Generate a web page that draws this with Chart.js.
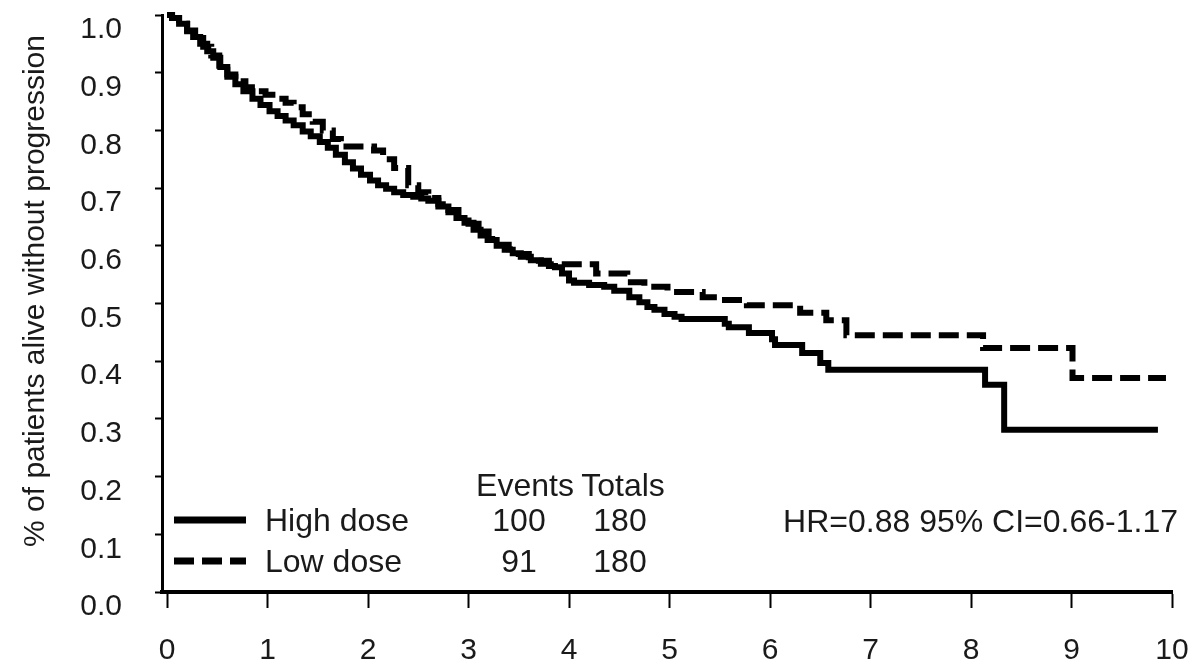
<!DOCTYPE html>
<html><head><meta charset="utf-8">
<script src="https://cdn.jsdelivr.net/npm/chart.js@4/dist/chart.umd.min.js"></script>
<style>html,body{margin:0;padding:0;background:#fff}#wrap{width:1196px;height:666px;position:relative}</style>
</head><body><div id="wrap"><canvas id="c" width="1196" height="666"></canvas></div>
<script>
// ---- data ----
const highTimes = [0,0.05,0.12,0.2,0.26,0.33,0.4,0.46,0.53,0.6,0.68,0.76,0.85,0.93,1.02,1.1,1.18,1.26,1.35,1.43,1.52,1.6,1.68,1.77,1.85,1.93,2.02,2.1,2.18,2.26,2.35,2.45,2.53,2.6,2.7,2.8,2.88,2.96,3.05,3.12,3.19,3.28,3.36,3.44,3.52,3.62,3.72,3.8,3.86,3.93,4.0,4.05,4.2,4.35,4.45,4.6,4.7,4.78,4.85,4.95,5.05,5.12,5.55,5.59,5.79,6.02,6.05,6.32,6.5,6.58,8.14,8.33,9.86];
const highSurv  = [1.0,0.995,0.985,0.972,0.962,0.95,0.937,0.926,0.91,0.893,0.88,0.868,0.855,0.844,0.833,0.825,0.817,0.809,0.798,0.79,0.78,0.77,0.758,0.745,0.734,0.723,0.713,0.705,0.699,0.693,0.688,0.685,0.682,0.678,0.668,0.658,0.648,0.64,0.628,0.618,0.61,0.6,0.593,0.587,0.581,0.575,0.569,0.565,0.563,0.552,0.54,0.536,0.532,0.529,0.522,0.511,0.502,0.494,0.489,0.482,0.477,0.473,0.465,0.459,0.449,0.438,0.428,0.414,0.397,0.385,0.359,0.281,0.281];
const lowTimes  = [0,0.05,0.12,0.2,0.28,0.36,0.44,0.52,0.6,0.68,0.78,0.88,0.98,1.08,1.18,1.26,1.35,1.45,1.55,1.65,1.73,2.06,2.15,2.26,2.4,2.5,2.6,2.7,2.8,2.9,3.0,3.1,3.2,3.3,3.4,3.5,3.6,3.7,3.8,4.27,4.58,4.75,4.98,5.33,5.52,5.77,6.3,6.56,6.76,8.12,9.01,9.94];
const lowSurv   = [1.0,0.995,0.985,0.973,0.96,0.945,0.93,0.912,0.897,0.885,0.875,0.868,0.862,0.855,0.848,0.84,0.828,0.815,0.8,0.785,0.772,0.765,0.75,0.735,0.705,0.693,0.683,0.672,0.662,0.65,0.638,0.625,0.612,0.602,0.594,0.586,0.58,0.574,0.568,0.552,0.537,0.529,0.52,0.511,0.506,0.497,0.484,0.471,0.445,0.423,0.371,0.371];
const xTickValues = [0,1,2,3,4,5,6,7,8,9,10];
const yTickValues = [0,0.1,0.2,0.3,0.4,0.5,0.6,0.7,0.8,0.9,1.0];
const yTickLabels = ['0.0','0.1','0.2','0.3','0.4','0.5','0.6','0.7','0.8','0.9','1.0'];
const seriesNames = ['High dose','Low dose'];
const eventCounts = [100, 91];
const totalCounts = [180, 180];
const tableHeaders = ['Events','Totals'];
const hrText = 'HR=0.88 95% CI=0.66-1.17';
const yTitle = '% of patients alive without progression';

// ---- styling ----
const FONT = "'Liberation Sans', Arial, sans-serif";
const TXT = '#1a1a1a';
const dashPattern = [20, 8];

const toPts = (ts, ss) => ts.map((t, i) => ({x: t, y: ss[i]}));

const annotationPlugin = {
  id: 'kmLegend',
  afterDraw(chart) {
    const ctx = chart.ctx;
    ctx.save();
    ctx.fillStyle = TXT;
    // y-axis title
    ctx.save();
    ctx.font = '30px ' + FONT;
    ctx.textAlign = 'center';
    ctx.textBaseline = 'middle';
    ctx.translate(36, 291);
    ctx.rotate(-Math.PI / 2);
    ctx.fillText(yTitle, 0, 0);
    ctx.restore();
    // table legend
    ctx.font = '32px ' + FONT;
    ctx.textBaseline = 'middle';
    ctx.textAlign = 'center';
    ctx.fillText(tableHeaders[0], 525, 487);
    ctx.fillText(tableHeaders[1], 623, 487);
    const rows = [520, 561];
    seriesNames.forEach((name, i) => {
      const y = rows[i];
      ctx.beginPath();
      ctx.strokeStyle = '#000';
      ctx.lineWidth = 7;
      ctx.setLineDash(i === 1 ? dashPattern : []);
      ctx.moveTo(174, y);
      ctx.lineTo(246, y);
      ctx.stroke();
      ctx.setLineDash([]);
      ctx.textAlign = 'left';
      ctx.fillText(name, 265, y + 2);
      ctx.textAlign = 'center';
      ctx.fillText(String(eventCounts[i]), 519, y + 2);
      ctx.fillText(String(totalCounts[i]), 620, y + 2);
    });
    ctx.textAlign = 'right';
    ctx.fillText(hrText, 1178, 523);
    ctx.restore();
  }
};

new Chart(document.getElementById('c'), {
  type: 'line',
  data: {
    datasets: [
      {label: seriesNames[0], data: toPts(highTimes, highSurv), stepped: true, borderColor: '#000', borderWidth: 6, pointRadius: 0, fill: false, clip: false},
      {label: seriesNames[1], data: toPts(lowTimes, lowSurv), stepped: true, borderColor: '#000', borderWidth: 6, borderDash: dashPattern, pointRadius: 0, fill: false, clip: false}
    ]
  },
  options: {
    responsive: false,
    devicePixelRatio: 1,
    animation: false,
    layout: {padding: {left: 0, top: 15, right: 24, bottom: 0}},
    plugins: {legend: {display: false}, tooltip: {enabled: false}},
    scales: {
      x: {
        type: 'linear', min: -0.05, max: 10,
        border: {display: true, color: '#000', width: 4},
        grid: {drawOnChartArea: false, drawTicks: true, tickLength: 16, tickWidth: 2, tickColor: '#000'},
        ticks: {font: {family: FONT, size: 30}, color: TXT, padding: 25, maxRotation: 0},
        afterBuildTicks: s => { s.ticks = xTickValues.map(v => ({value: v})); },
        afterFit: s => { s.height = 74; s.paddingLeft = 0; s.paddingRight = 0; }
      },
      y: {
        type: 'linear', min: 0, max: 1,
        border: {display: true, color: '#000', width: 3},
        grid: {drawOnChartArea: false, drawTicks: true, tickLength: 7, tickWidth: 2, tickColor: '#000'},
        ticks: {font: {family: FONT, size: 30}, color: TXT, padding: 33, labelOffset: 15,
          callback: (v, i) => yTickLabels[i]},
        afterBuildTicks: s => { s.ticks = yTickValues.map(v => ({value: v})); },
        afterFit: s => { s.width = 162; s.paddingTop = 0; s.paddingBottom = 0; },
        title: {display: false, text: yTitle}
      }
    }
  },
  plugins: [annotationPlugin]
});
</script>
</body></html>
